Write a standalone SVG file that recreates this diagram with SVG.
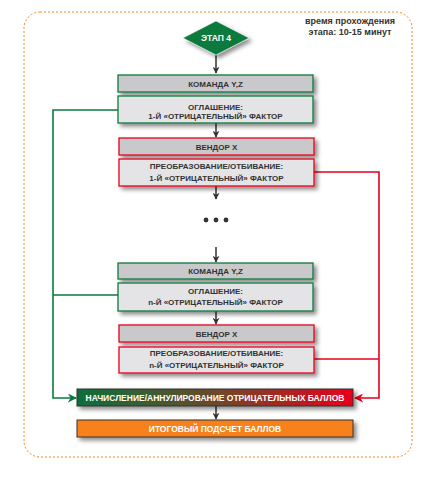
<svg xmlns="http://www.w3.org/2000/svg" width="437" height="488" viewBox="0 0 437 488">
<defs>
<filter id="sh" x="-10%" y="-30%" width="130%" height="180%">
<feDropShadow dx="3" dy="3" stdDeviation="2" flood-color="#000" flood-opacity="0.45"/>
</filter>
<linearGradient id="gr" x1="0" y1="0" x2="1" y2="0">
<stop offset="0" stop-color="#0d6e3b"/>
<stop offset="0.5" stop-color="#6a4a2a"/>
<stop offset="1" stop-color="#e8001c"/>
</linearGradient>
<marker id="ad" viewBox="0 0 10 10" refX="9" refY="5" markerWidth="7" markerHeight="7" markerUnits="userSpaceOnUse" orient="auto"><path d="M0,0 L10,5 L0,10 L3,5 Z" fill="#333"/></marker>
<marker id="ag" viewBox="0 0 10 10" refX="9" refY="5" markerWidth="9" markerHeight="9" markerUnits="userSpaceOnUse" orient="auto"><path d="M0,0 L10,5 L0,10 L3,5 Z" fill="#0b7a3e"/></marker>
<marker id="ar" viewBox="0 0 10 10" refX="9" refY="5" markerWidth="9" markerHeight="9" markerUnits="userSpaceOnUse" orient="auto"><path d="M0,0 L10,5 L0,10 L3,5 Z" fill="#e8001c"/></marker>
</defs>
<style>
text{font-family:"Liberation Sans",Arial,sans-serif;font-weight:bold;text-anchor:middle}
.lb{font-size:8px;fill:#333}
.wt{font-size:8.5px;fill:#fff}
.hg{fill:#c9c9cb;stroke:#0b7a3e;stroke-width:1.3}
.bg{fill:#e4e4e6;stroke:#0b7a3e;stroke-width:1.3}
.hr{fill:#c9c9cb;stroke:#e8001c;stroke-width:1.3}
.br{fill:#e4e4e6;stroke:#e8001c;stroke-width:1.3}
.ar{stroke:#333;stroke-width:1.5;fill:none;marker-end:url(#ad)}
.gl{stroke:#0b7a3e;stroke-width:1.6;fill:none}
.rl{stroke:#e8001c;stroke-width:1.6;fill:none}
</style>
<rect x="24" y="12" width="388" height="445" rx="16" fill="none" stroke="#f7821e" stroke-width="1" stroke-dasharray="2,2"/>
<g id="note"><text x="350" y="24" style="font-size:9px;fill:#333">время прохождения</text><text x="350" y="35" style="font-size:9px;fill:#333">этапа: 10-15 минут</text></g>
<g id="connectors">
<path class="ar" d="M216,55 V73"/>
<path class="ar" d="M216,123 V137"/>
<path class="ar" d="M216,186 V199"/>
<path class="ar" d="M216,247 V262"/>
<path class="ar" d="M216,311 V324"/>
<path class="ar" d="M216,406 V419"/>
<path class="gl" d="M118,110 H53 V398 H76" marker-end="url(#ag)"/>
<path class="gl" d="M118,295 H53"/>
<path class="rl" d="M314,172 H379 V398 H355" marker-end="url(#ar)"/>
<path class="rl" d="M314,359 H379"/>
</g>
<g id="stage"><polygon points="216,21 249,38 216,55 183,38" fill="#0b7a3e" stroke="#fff" stroke-width="0.5" filter="url(#sh)"/><text class="wt" x="216" y="41">ЭТАП 4</text></g>
<g id="team1"><rect class="hg" x="118" y="75" width="195" height="17" filter="url(#sh)"/><text class="lb" x="215.5" y="86.5">КОМАНДА Y,Z</text></g>
<g id="agree1"><rect class="bg" x="118" y="96" width="195" height="27" filter="url(#sh)"/><text class="lb" x="215.5" y="110">ОГЛАШЕНИЕ:</text><text class="lb" x="215.5" y="119">1-Й «ОТРИЦАТЕЛЬНЫЙ» ФАКТОР</text></g>
<g id="vendor1"><rect class="hr" x="119" y="138" width="195" height="17" filter="url(#sh)"/><text class="lb" x="216.5" y="149.5">ВЕНДОР X</text></g>
<g id="conv1"><rect class="br" x="119" y="159" width="195" height="27" filter="url(#sh)"/><text class="lb" x="216.5" y="169">ПРЕОБРАЗОВАНИЕ/ОТБИВАНИЕ:</text><text class="lb" x="216.5" y="180.5">1-Й «ОТРИЦАТЕЛЬНЫЙ» ФАКТОР</text></g>
<g id="dots" fill="#333"><circle cx="206" cy="220" r="2.4"/><circle cx="216" cy="220" r="2.4"/><circle cx="226" cy="220" r="2.4"/></g>
<g id="team2"><rect class="hg" x="118" y="263" width="195" height="16" filter="url(#sh)"/><text class="lb" x="215.5" y="274">КОМАНДА Y,Z</text></g>
<g id="agree2"><rect class="bg" x="118" y="283" width="195" height="28" filter="url(#sh)"/><text class="lb" x="215.5" y="293.5">ОГЛАШЕНИЕ:</text><text class="lb" x="215.5" y="305">n-Й «ОТРИЦАТЕЛЬНЫЙ» ФАКТОР</text></g>
<g id="vendor2"><rect class="hr" x="119" y="325" width="195" height="17" filter="url(#sh)"/><text class="lb" x="216.5" y="336.5">ВЕНДОР X</text></g>
<g id="conv2"><rect class="br" x="119" y="347" width="195" height="26" filter="url(#sh)"/><text class="lb" x="216.5" y="356">ПРЕОБРАЗОВАНИЕ/ОТБИВАНИЕ:</text><text class="lb" x="216.5" y="368">n-Й «ОТРИЦАТЕЛЬНЫЙ» ФАКТОР</text></g>
<g id="score"><rect x="77" y="389" width="276" height="17" fill="url(#gr)" stroke="#333" stroke-width="1" filter="url(#sh)"/><text class="wt" x="215" y="400.5">НАЧИСЛЕНИЕ/АННУЛИРОВАНИЕ ОТРИЦАТЕЛЬНЫХ БАЛЛОВ</text></g>
<g id="total"><rect x="77" y="420" width="276" height="17" fill="#f7821e" stroke="#333" stroke-width="1" filter="url(#sh)"/><text class="wt" x="215" y="431.5">ИТОГОВЫЙ ПОДСЧЕТ БАЛЛОВ</text></g>
</svg>
